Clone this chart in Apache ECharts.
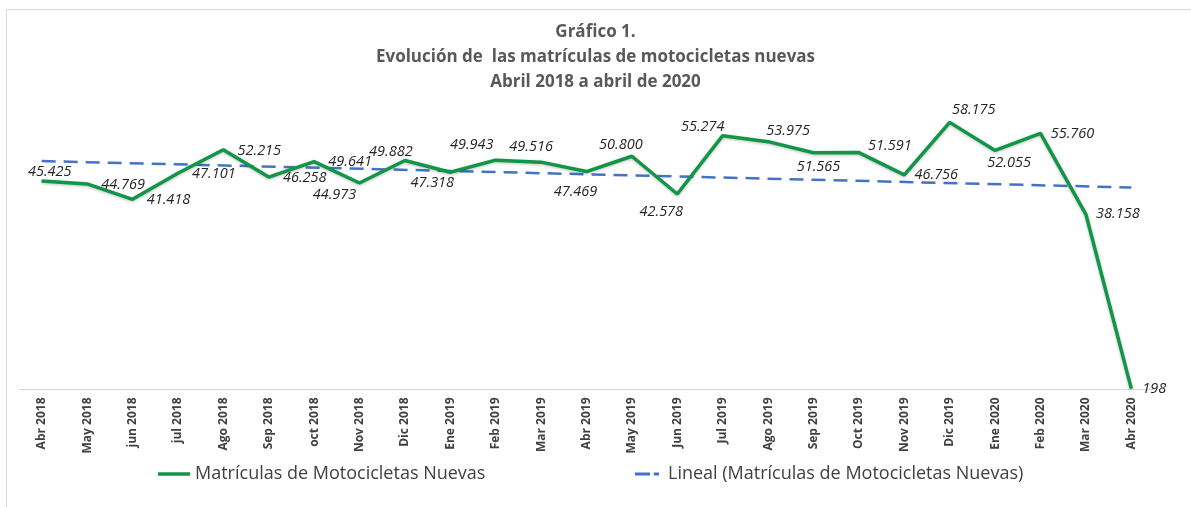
<!DOCTYPE html>
<html>
<head>
<meta charset="utf-8">
<title>Matrículas de motocicletas nuevas</title>
<script src="https://cdn.jsdelivr.net/npm/echarts@6/dist/echarts.min.js"></script>
<style>
  html, body { margin: 0; padding: 0; background: #fff; }
  #chart { width: 1191px; height: 507px; }
</style>
</head>
<body>
<div id="chart"></div>
<script>
// datos del gráfico
const meses = [
  "Abr 2018", "May 2018", "jun 2018", "jul 2018", "Ago 2018", "Sep 2018",
  "oct 2018", "Nov 2018", "Dic 2018", "Ene 2019", "Feb 2019", "Mar 2019",
  "Abr 2019", "May 2019", "Jun 2019", "Jul 2019", "Ago 2019", "Sep 2019",
  "Oct 2019", "Nov 2019", "Dic 2019", "Ene 2020", "Feb 2020", "Mar 2020",
  "Abr 2020"
];
const matriculas = [
  45425, 44769, 41418, 47101, 52215, 46258, 49641, 44973, 49882, 47318,
  49943, 49516, 47469, 50800, 42578, 55274, 53975, 51565, 51591, 46756,
  58175, 52055, 55760, 38158, 198
];
// extremos de la línea de tendencia
const tendenciaInicio = 49750;
const tendenciaFin = 44000;

const serieNombre = "Matrículas de Motocicletas Nuevas";
const tendenciaNombre = "Lineal (Matrículas de Motocicletas Nuevas)";

// desplazamiento de cada etiqueta respecto a su punto
const labelOffsets = [
  [8, -9], [36, 1], [36, 1], [36, 1], [36, 1], [36, 1], [36, 0], [-25, 12],
  [-14, -9], [-18, 11], [-24, -15], [-10, -15], [-11, 20], [-11, -11],
  [-16, 18], [-20, -9], [20, -11], [5, 14], [31, -7], [32, 0], [24, -13],
  [14, 12], [32, 0], [32, 0], [23, 0]
];

const tendencia = meses.map((m, i) =>
  i === 0 ? tendenciaInicio : (i === meses.length - 1 ? tendenciaFin : null)
);

function formatoMiles(v) {
  return String(v).replace(/\B(?=(\d{3})+(?!\d))/g, ".");
}

const myChart = echarts.init(document.getElementById("chart"), null, { renderer: "canvas" });

const legendText = { fontSize: 18, color: "#404040", fontFamily: "Open Sans" };

const option = {
  animation: false,
  backgroundColor: "#ffffff",
  textStyle: { fontFamily: "Open Sans" },
  graphic: [
    {
      type: "rect",
      silent: true,
      shape: { x: 6.5, y: 9.5, width: 1200, height: 520 },
      style: { fill: "none", stroke: "#d9d9d9", lineWidth: 1 }
    }
  ],
  title: {
    text: "Gráfico 1.\nEvolución de  las matrículas de motocicletas nuevas\nAbril 2018 a abril de 2020",
    left: "center",
    top: 15,
    textStyle: {
      fontFamily: "Open Sans",
      fontWeight: "bold",
      fontSize: 17,
      lineHeight: 25,
      color: "#595959"
    }
  },
  legend: [
    {
      left: 153,
      top: 460,
      data: [serieNombre],
      icon: "rect",
      itemWidth: 32,
      itemHeight: 3.5,
      textStyle: legendText
    },
    {
      left: 630,
      top: 460,
      data: [tendenciaNombre],
      icon: "path://M0,0H20V4H0Z M25,0H32V4H25Z",
      itemWidth: 32,
      itemHeight: 3,
      textStyle: legendText
    }
  ],
  grid: {
    left: 19,
    right: 37,
    top: 114,
    height: 275.5,
    containLabel: false
  },
  xAxis: {
    type: "category",
    data: meses,
    boundaryGap: true,
    axisLine: { lineStyle: { color: "#d9d9d9", width: 1 } },
    axisTick: { show: false },
    axisLabel: {
      interval: 0,
      rotate: 90,
      margin: 8,
      fontSize: 12,
      fontWeight: "bold",
      color: "#404040",
      fontFamily: "Open Sans"
    }
  },
  yAxis: {
    type: "value",
    min: 0,
    max: 60000,
    show: false,
    splitLine: { show: false }
  },
  series: [
    {
      name: serieNombre,
      type: "line",
      data: matriculas.map((v, i) => ({
        value: v,
        label: { offset: labelOffsets[i] }
      })),
      symbol: "circle",
      symbolSize: 1,
      showSymbol: true,
      lineStyle: {
        color: "#119648",
        width: 3.5,
        shadowColor: "rgba(0,0,0,0.25)",
        shadowBlur: 3,
        shadowOffsetY: 1
      },
      itemStyle: { color: "#119648" },
      label: {
        show: true,
        position: "inside",
        fontSize: 14.5,
        fontStyle: "italic",
        color: "#262626",
        fontFamily: "Open Sans",
        formatter: p => formatoMiles(p.value)
      },
      z: 3
    },
    {
      name: tendenciaNombre,
      type: "line",
      data: tendencia,
      connectNulls: true,
      symbol: "none",
      lineStyle: { color: "#4472C4", width: 2.5, type: [14, 8] },
      itemStyle: { color: "#4472C4" },
      z: 2
    }
  ]
};

myChart.setOption(option);
window.addEventListener("resize", () => myChart.resize(), false);
</script>
</body>
</html>
